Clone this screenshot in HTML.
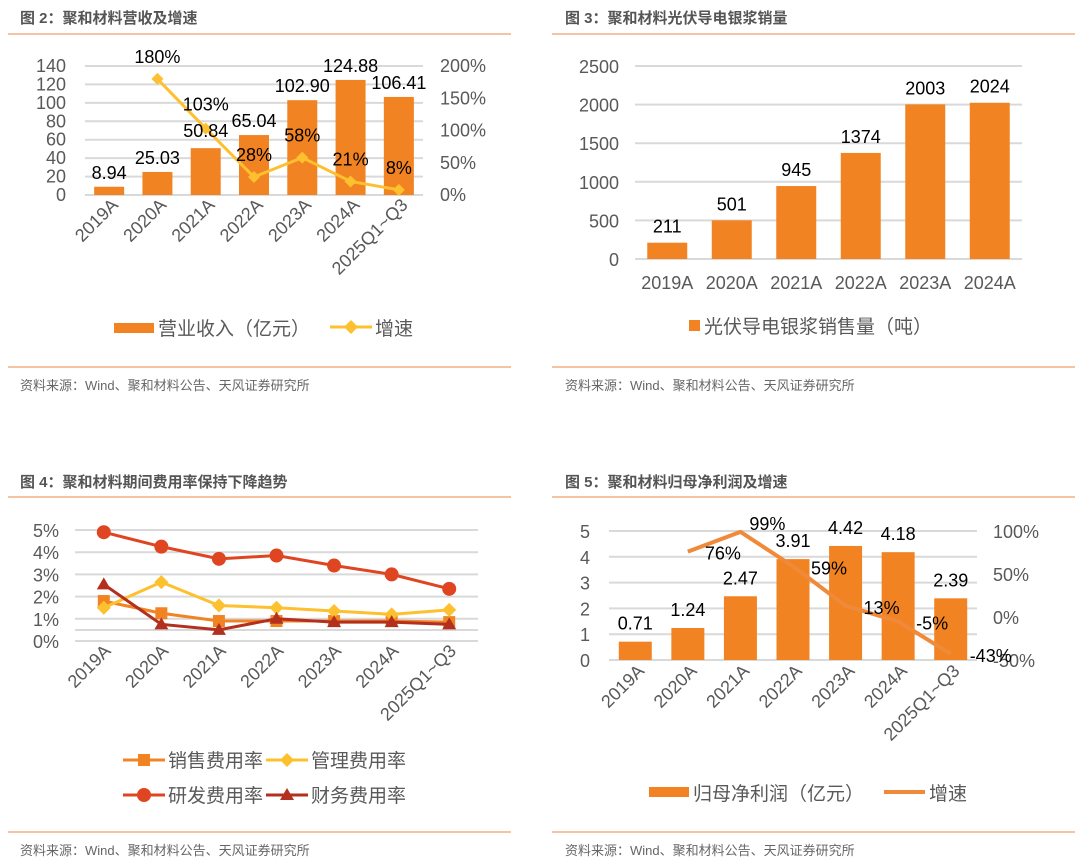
<!DOCTYPE html>
<html><head><meta charset="utf-8">
<style>
html,body{margin:0;padding:0;background:#fff;}
svg{display:block;font-family:"Liberation Sans","Noto Sans CJK SC",sans-serif;}
.t{font-weight:bold;font-size:15px;fill:#555;}
.src{font-size:13px;fill:#666;}
.ax{font-size:18px;fill:#595959;}
.lb{font-size:18px;fill:#000;}
.lg{font-size:19px;fill:#595959;}
</style></head>
<body>
<svg id="s" width="1080" height="863" viewBox="0 0 1080 863">
<g>
<text class="t" x="20" y="23">图 2：聚和材料营收及增速</text>
<line x1="8" y1="34" x2="511" y2="34" stroke="#F4B183" stroke-width="1.5"/>
<line x1="8" y1="367" x2="511" y2="367" stroke="#F4B183" stroke-width="1.5"/>
<text class="src" x="20" y="390">资料来源：Wind、聚和材料公告、天风证券研究所</text>

<text class="t" x="565" y="23">图 3：聚和材料光伏导电银浆销量</text>
<line x1="552" y1="34" x2="1075" y2="34" stroke="#F4B183" stroke-width="1.5"/>
<line x1="552" y1="367" x2="1075" y2="367" stroke="#F4B183" stroke-width="1.5"/>
<text class="src" x="565" y="390">资料来源：Wind、聚和材料公告、天风证券研究所</text>

<text class="t" x="20" y="487">图 4：聚和材料期间费用率保持下降趋势</text>
<line x1="8" y1="497" x2="511" y2="497" stroke="#F4B183" stroke-width="1.5"/>
<line x1="8" y1="832" x2="511" y2="832" stroke="#F4B183" stroke-width="1.5"/>
<text class="src" x="20" y="855">资料来源：Wind、聚和材料公告、天风证券研究所</text>

<text class="t" x="565" y="487">图 5：聚和材料归母净利润及增速</text>
<line x1="552" y1="497" x2="1075" y2="497" stroke="#F4B183" stroke-width="1.5"/>
<line x1="552" y1="832" x2="1075" y2="832" stroke="#F4B183" stroke-width="1.5"/>
<text class="src" x="565" y="855">资料来源：Wind、聚和材料公告、天风证券研究所</text>
</g>
</svg>
<script>
// ---- Chart 1 data ----
const c1Cats = ["2019A","2020A","2021A","2022A","2023A","2024A","2025Q1~Q3"];
const c1Rev = [8.94,25.03,50.84,65.04,102.90,124.88,106.41];
const c1RevLabels = ["8.94","25.03","50.84","65.04","102.90","124.88","106.41"];
const c1Growth = [null,180,103,28,58,21,8];
const c1LeftTicks = [0,20,40,60,80,100,120,140];
const c1RightTicks = [0,50,100,150,200];
// ---- Chart 2 data ----
const c2Cats = ["2019A","2020A","2021A","2022A","2023A","2024A"];
const c2Vol = [211,501,945,1374,2003,2024];
const c2Ticks = [0,500,1000,1500,2000,2500];
// ---- Chart 3 data ----
const c3Cats = ["2019A","2020A","2021A","2022A","2023A","2024A","2025Q1~Q3"];
const c3Sales = [1.8,1.25,0.9,0.9,0.9,0.9,0.85];
const c3Admin = [1.5,2.65,1.6,1.5,1.35,1.2,1.4];
const c3RD = [4.9,4.25,3.7,3.85,3.4,3.0,2.35];
const c3Fin = [2.55,0.75,0.5,1.0,0.85,0.85,0.75];
const c3Ticks = [0,1,2,3,4,5];
// ---- Chart 4 data ----
const c4Cats = ["2019A","2020A","2021A","2022A","2023A","2024A","2025Q1~Q3"];
const c4Profit = [0.71,1.24,2.47,3.91,4.42,4.18,2.39];
const c4ProfitLabels = ["0.71","1.24","2.47","3.91","4.42","4.18","2.39"];
const c4Growth = [null,76,99,59,13,-5,-43];
const c4LeftTicks = [0,1,2,3,4,5];
const c4RightTicks = [-50,0,50,100];

const NS="http://www.w3.org/2000/svg";
const svg=document.getElementById('s');
function mk(tag,attrs,parent,txt){const e=document.createElementNS(NS,tag);for(const k in attrs)e.setAttribute(k,attrs[k]);if(txt!==undefined)e.textContent=txt;(parent||svg).appendChild(e);return e;}
function grp(name){const g=mk('g',{});


return g;}
function lin(d0,d1,r0,r1){return v=>r0+(v-d0)*(r1-r0)/(d1-d0);}
function diamond(g,x,y,r,c){return mk('polygon',{points:`${x},${y-r} ${x+r},${y} ${x},${y+r} ${x-r},${y}`,fill:c},g);}
const ORANGE="#F28323";

// ===== Chart 1 =====
(function(){
const g=grp('revenue-chart');
const L=85,R=423,n=c1Cats.length,step=(R-L)/n;
const y=lin(0,140,195,66), yr=lin(0,200,195,66), x=i=>L+step*(i+0.5);
c1LeftTicks.forEach(t=>{mk('line',{x1:L,x2:R,y1:y(t),y2:y(t),stroke:"#D9D9D9","stroke-width":2},g);
const tx=mk('text',{x:66,y:y(t)+6,"text-anchor":"end",class:"ax"},g,String(t));

});
c1RightTicks.forEach(t=>{const tx=mk('text',{x:440,y:yr(t)+6,class:"ax"},g,t+"%");

});
c1Rev.forEach((v,i)=>{const b=mk('rect',{x:x(i)-15,y:y(v),width:30,height:y(0)-y(v),fill:ORANGE},g);

});
let pts=[];c1Growth.forEach((v,i)=>{if(v!==null)pts.push(x(i)+","+yr(v));});
mk('polyline',{points:pts.join(' '),fill:"none",stroke:"#FDC02F","stroke-width":3},g);
c1Growth.forEach((v,i)=>{if(v===null)return;const d=diamond(g,x(i),yr(v),6,"#FDC02F");


const t=mk('text',{x:x(i),y:yr(v)-(i==2?18:16),"text-anchor":"middle",class:"lb"},g,v+"%");

});
c1Rev.forEach((v,i)=>{const t=mk('text',{x:x(i),y:y(v)-(i==2?11:8),"text-anchor":"middle",class:"lb"},g,c1RevLabels[i]);

});
c1Cats.forEach((c,i)=>{const t=mk('text',{x:x(i)+10,y:206,"text-anchor":"end",class:"ax",transform:`rotate(-45 ${x(i)+10} 206)`},g,c);

});
const lg=grp('revenue-legend');
mk('rect',{x:114,y:323,width:40,height:10,fill:ORANGE},lg);
mk('text',{x:158,y:335,class:"lg"},lg,"营业收入（亿元）");
mk('line',{x1:330,x2:372,y1:327,y2:327,stroke:"#FDC02F","stroke-width":3},lg);
diamond(lg,351,327,7,"#FDC02F");
mk('text',{x:375,y:335,class:"lg"},lg,"增速");
})();

// ===== Chart 2 =====
(function(){
const g=grp('silver-paste-chart');
const L=635,R=1022,n=c2Cats.length,step=(R-L)/n;
const y=lin(0,2500,259,66), x=i=>L+step*(i+0.5);
c2Ticks.forEach(t=>{mk('line',{x1:L,x2:R,y1:y(t),y2:y(t),stroke:"#D9D9D9","stroke-width":2},g);
const tx=mk('text',{x:619,y:y(t)+7,"text-anchor":"end",class:"ax"},g,String(t));

});
c2Vol.forEach((v,i)=>{const b=mk('rect',{x:x(i)-20,y:y(v),width:40,height:y(0)-y(v),fill:ORANGE},g);


const t=mk('text',{x:x(i),y:y(v)-10,"text-anchor":"middle",class:"lb"},g,String(v));


const c=mk('text',{x:x(i),y:289,"text-anchor":"middle",class:"ax"},g,c2Cats[i]);

});
const lg=grp('volume-legend');
mk('rect',{x:689,y:320,width:11,height:11,fill:ORANGE},lg);
mk('text',{x:704,y:333,class:"lg"},lg,"光伏导电银浆销售量（吨）");
})();

// ===== Chart 3 =====
(function(){
const g=grp('expense-ratio-chart');
const L=75,R=478,n=c3Cats.length,step=(R-L)/n;
const y=lin(0,5,641,530), x=i=>L+step*(i+0.5);
c3Ticks.forEach(t=>{mk('line',{x1:L,x2:R,y1:y(t),y2:y(t),stroke:"#D9D9D9","stroke-width":2},g);
const tx=mk('text',{x:59,y:y(t)+7,"text-anchor":"end",class:"ax"},g,t+"%");

});
mk('line',{x1:L,x2:R,y1:630,y2:630,stroke:"#D9D9D9","stroke-width":2},g);
function marker(gg,shape,cx,cy,c){
 if(shape=='sq')return mk('rect',{x:cx-6,y:cy-6,width:12,height:12,fill:c},gg);
 if(shape=='di')return diamond(gg,cx,cy,7,c);
 if(shape=='ci')return mk('circle',{cx:cx,cy:cy,r:7,fill:c},gg);
 return mk('polygon',{points:`${cx},${cy-7} ${cx+7},${cy+5} ${cx-7},${cy+5}`,fill:c},gg);}
const series=[[c3Sales,"#F28323","sq","sales"],[c3Admin,"#FDC02F","di","admin"],[c3RD,"#DF4520","ci","rd"],[c3Fin,"#B3301E","tr","finance"]];
series.forEach(([arr,c,sh,nm])=>{const sg=grp(nm+'-expense-series');
mk('polyline',{points:arr.map((v,i)=>x(i)+","+y(v)).join(' '),fill:"none",stroke:c,"stroke-width":3},sg);
arr.forEach((v,i)=>{const m=marker(sg,sh,x(i),y(v),c);

});});
c3Cats.forEach((c,i)=>{const t=mk('text',{x:x(i)+8,y:652,"text-anchor":"end",class:"ax",transform:`rotate(-45 ${x(i)+8} 652)`},g,c);

});
const lg=grp('expense-legend');
const items=[[123,760,series[0],"销售费用率"],[266,760,series[1],"管理费用率"],[123,795,series[2],"研发费用率"],[266,795,series[3],"财务费用率"]];
items.forEach(([lx,ly,s,label])=>{mk('line',{x1:lx,x2:lx+42,y1:ly,y2:ly,stroke:s[1],"stroke-width":3},lg);
marker(lg,s[2],lx+21,ly,s[1]);
mk('text',{x:lx+45,y:ly+7,class:"lg"},lg,label);});
})();

// ===== Chart 4 =====
(function(){
const g=grp('net-profit-chart');
const L=609,R=977,n=c4Cats.length,step=(R-L)/n;
const y=lin(0,5,660,531), yr=lin(-50,100,660,531), x=i=>L+step*(i+0.5);
c4LeftTicks.forEach(t=>{mk('line',{x1:L,x2:R,y1:y(t),y2:y(t),stroke:"#D9D9D9","stroke-width":2},g);
const tx=mk('text',{x:590,y:y(t)+7,"text-anchor":"end",class:"ax"},g,String(t));

});
c4RightTicks.forEach(t=>{const tx=mk('text',{x:993,y:yr(t)+7,class:"ax",fill:"#7f7f7f"},g,t+"%");

});
c4Profit.forEach((v,i)=>{const b=mk('rect',{x:x(i)-16.5,y:y(v),width:33,height:y(0)-y(v),fill:ORANGE},g);


const t=mk('text',{x:x(i),y:y(v)-12,"text-anchor":"middle",class:"lb"},g,c4ProfitLabels[i]);

});
let pts=[];c4Growth.forEach((v,i)=>{if(v!==null)pts.push(x(i)+","+yr(v));});
mk('polyline',{points:pts.join(' '),fill:"none",stroke:"#F08A3A","stroke-width":4,"stroke-linejoin":"round"},g);
const offs=[null,[35,8],[27,-2],[36,8],[36,8],[34,8],[40,8]];
c4Growth.forEach((v,i)=>{if(v===null)return;const t=mk('text',{x:x(i)+offs[i][0],y:yr(v)+offs[i][1],"text-anchor":"middle",class:"lb"},g,v+"%");

});
c4Cats.forEach((c,i)=>{const t=mk('text',{x:x(i)+10,y:672,"text-anchor":"end",class:"ax",transform:`rotate(-45 ${x(i)+10} 672)`},g,c);

});
const lg=grp('profit-legend');
mk('rect',{x:649,y:787,width:40,height:10,fill:ORANGE},lg);
mk('text',{x:693,y:800,class:"lg"},lg,"归母净利润（亿元）");
mk('line',{x1:884,x2:925,y1:792,y2:792,stroke:"#F08A3A","stroke-width":4},lg);
mk('text',{x:929,y:800,class:"lg"},lg,"增速");
})();
</script>
</body></html>
